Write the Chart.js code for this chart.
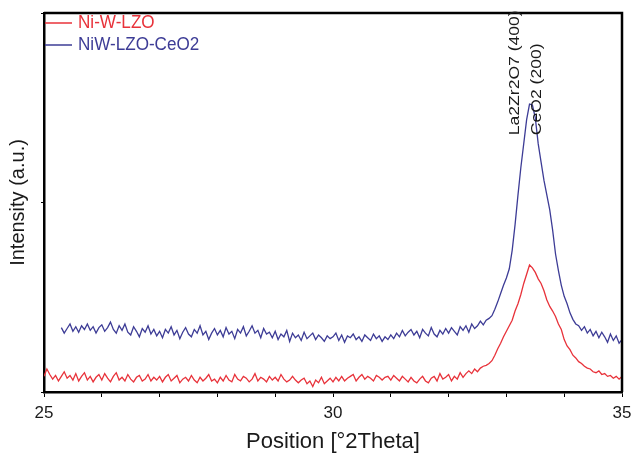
<!DOCTYPE html>
<html lang="en">
<head>
<meta charset="UTF-8">
<title>XRD pattern</title>
<script src="https://cdn.jsdelivr.net/npm/chart.js@4.4.1/dist/chart.umd.min.js"></script>
<style>
  html, body { margin: 0; padding: 0; background: #fff; }
  #wrap { width: 632px; height: 455px; }
</style>
</head>
<body>
<div id="wrap"><canvas id="xrd"></canvas></div>
<script>
// scan settings (degrees 2theta)
const step = 0.05;
const redStart = 25.0;
const blueStart = 25.3;

// Ni-W-LZO, one row per degree (25.00 ... 35.00)
const redIntensity = [
  15, 55, 25, 0, 20, -10, 15, 40, 5, 20, -5, 30, -10, 15, 35, -5, 15, -15, 10, 25,
  -5, 30, 5, -15, 15, 35, -5, 10, -10, 25, 0, -15, 10, 20, -10, 0, 25, -10, 10, -5,
  15, -15, 10, 25, -10, 5, 20, -20, 0, 10, -10, 20, -5, -20, 10, -10, 5, 25, -10, 0,
  -20, 10, -10, 20, -5, -15, 25, 0, -10, 15, 5, -15, 0, 30, -10, 10, 0, -15, 15, -5,
  10, -10, 25, 0, -15, -5, 15, -5, -20, -5, 5, -25, -10, -40, -5, -20, 10, -25, -10, 5,
  -15, 10, -10, 15, -10, 5, 15, 25, -10, 10, 25, 0, 15, 5, -10, 20, 10, -5, 10, 15,
  -5, 20, 5, -10, 15, 0, -15, 10, -10, -20, 0, 15, -10, -20, 5, 15, -10, 30, 0, 10,
  25, -10, 15, 0, 35, 10, 30, 45, 30, 55, 40, 60, 70, 75, 85, 100, 130, 165, 195, 230,
  260, 290, 320, 370, 410, 460, 520, 570, 620, 605, 580, 545, 520, 480, 430, 395, 370, 340, 300, 270,
  215, 180, 160, 130, 115, 95, 85, 70, 60, 55, 40, 35, 45, 25, 30, 15, 20, 5, 15, 0,
  15
];

// NiW-LZO-CeO2 (25.30 ... 35.00)
const blueIntensity = [
  280, 250, 275, 300, 260, 285, 255, 290, 270, 300, 265, 285, 250, 280,
  295, 260, 280, 310, 270, 250, 290, 265, 300, 255, 240, 285, 260, 230, 275, 255, 290, 245, 270, 235,
  260, 225, 270, 250, 285, 240, 265, 220, 255, 280, 245, 230, 270, 250, 290, 240, 260, 215, 250, 275,
  240, 265, 230, 280, 245, 260, 220, 270, 250, 285, 235, 260, 290, 250, 265, 225, 275, 245, 255, 225,
  260, 215, 245, 230, 265, 205, 250, 225, 240, 210, 255, 220, 235, 250, 215, 240, 225, 205, 235, 220,
  230, 250, 210, 240, 200, 235, 225, 245, 215, 230, 205, 240, 225, 210, 245, 220, 235, 205, 230, 215,
  240, 220, 250, 230, 265, 235, 255, 270, 240, 260, 225, 270, 250, 235, 280, 245, 230, 265, 245, 275,
  250, 280, 260, 240, 285, 265, 290, 255, 300, 275, 290, 315, 295, 320, 330, 345, 380, 420, 465, 510,
  550, 600, 700, 840, 1000, 1150, 1280, 1410, 1495, 1490, 1420, 1280, 1180, 1080, 1000, 920, 810, 680, 590, 510,
  450, 410, 360, 325, 300, 290, 265, 285, 250, 270, 235, 260, 225, 255, 230, 200, 245, 210, 235, 195,
  215
];

const seriesNames = ['Ni-W-LZO', 'NiW-LZO-CeO2'];
const seriesColors = ['#e8323a', '#3d3c96'];
const xLabelTicks = [25, 30, 35];
const peakLabels = [
  { text: 'La2Zr2O7 (400)', pos: 33.15, base: 1326 },
  { text: 'CeO2 (200)', pos: 33.53, base: 1326 }
];

function toPoints(start, values) {
  return values.map((v, i) => ({ x: +(start + i * step).toFixed(2), y: v }));
}

// frame, legend and peak labels drawn on top
const extras = {
  id: 'extras',
  afterDatasetsDraw(chart) {
    const { ctx, chartArea: a, scales } = chart;
    ctx.save();
    ctx.strokeStyle = '#000';
    ctx.lineWidth = 2.5;
    ctx.beginPath();
    ctx.moveTo(a.left, a.top);
    ctx.lineTo(a.right, a.top);
    ctx.lineTo(a.right, a.bottom);
    ctx.stroke();

    // legend in the corner
    ctx.font = '18px "Liberation Sans", Arial, sans-serif';
    ctx.textBaseline = 'middle';
    chart.data.datasets.forEach((ds, i) => {
      const y = 23 + i * 22;
      ctx.strokeStyle = ds.borderColor;
      ctx.lineWidth = 1.5;
      ctx.beginPath();
      ctx.moveTo(a.left + 1, y);
      ctx.lineTo(a.left + 28, y);
      ctx.stroke();
      ctx.fillStyle = ds.borderColor;
      ctx.save();
      ctx.translate(a.left + 34, y);
      ctx.scale(0.95, 1);
      ctx.fillText(ds.label, 0, 0);
      ctx.restore();
    });

    // rotated peak labels (stretched like the scan)
    ctx.fillStyle = '#1a1a1a';
    ctx.font = '15px "Liberation Sans", Arial, sans-serif';
    peakLabels.forEach(p => {
      const x = scales.x.getPixelForValue(p.pos);
      const y = scales.y.getPixelForValue(p.base);
      ctx.save();
      ctx.translate(x, y);
      ctx.rotate(-Math.PI / 2);
      ctx.scale(1.17, 1);
      ctx.textAlign = 'left';
      ctx.fillText(p.text, 0, 0);
      ctx.restore();
    });
    ctx.restore();
  }
};

new Chart(document.getElementById('xrd'), {
  type: 'line',
  data: {
    datasets: [
      { label: seriesNames[0], data: toPoints(redStart, redIntensity), borderColor: seriesColors[0] },
      { label: seriesNames[1], data: toPoints(blueStart, blueIntensity), borderColor: seriesColors[1] }
    ]
  },
  options: {
    responsive: true,
    maintainAspectRatio: false,
    animation: false,
    layout: { padding: { left: 0, right: 10, top: 13, bottom: 0 } },
    elements: {
      point: { radius: 0 },
      line: { borderWidth: 1.3, tension: 0 }
    },
    plugins: { legend: { display: false }, tooltip: { enabled: false } },
    scales: {
      x: {
        type: 'linear',
        min: 25, max: 35,
        border: { display: true, color: '#000', width: 2.5 },
        grid: { drawOnChartArea: false, color: '#000', tickLength: 5, tickWidth: 1 },
        ticks: {
          stepSize: 1,
          includeBounds: false,
          autoSkip: false,
          maxRotation: 0,
          padding: 6,
          color: '#1a1a1a',
          font: { family: '"Liberation Sans", Arial, sans-serif', size: 17 },
          callback: v => xLabelTicks.includes(v) ? String(v) : ''
        },
        title: {
          display: true,
          text: 'Position [°2Theta]',
          color: '#1a1a1a',
          font: { family: '"Liberation Sans", Arial, sans-serif', size: 22 },
          padding: { top: 3, bottom: 0 }
        },
        afterFit: s => { s.height = 63; s.paddingLeft = 0; s.paddingRight = 0; }
      },
      y: {
        min: -70, max: 1990,
        border: { display: true, color: '#000', width: 2.5 },
        grid: { drawOnChartArea: false, color: '#000', tickLength: 3, tickWidth: 1 },
        ticks: { stepSize: 1000, includeBounds: false, padding: 0, callback: () => '' },
        title: {
          display: true,
          text: 'Intensity (a.u.)',
          color: '#1a1a1a',
          font: { family: '"Liberation Sans", Arial, sans-serif', size: 20 },
          padding: { top: 6, bottom: 0 }
        },
        afterFit: s => { s.width = 44; s.paddingTop = 0; s.paddingBottom = 0; }
      }
    }
  },
  plugins: [extras]
});
</script>
</body>
</html>
